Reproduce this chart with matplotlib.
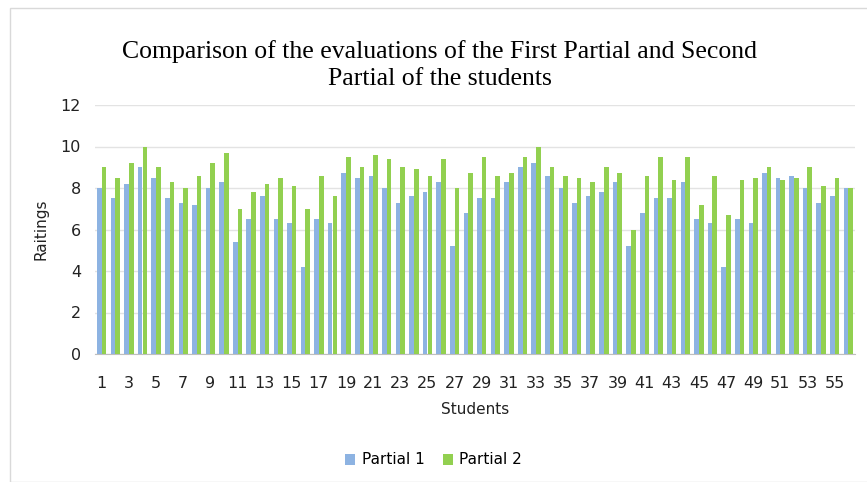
import matplotlib
matplotlib.use("Agg")
import matplotlib.pyplot as plt
import numpy as np
from matplotlib.patches import Rectangle

students = list(range(1, 57))
partial_1 = [8.0, 7.5, 8.2, 9.0, 8.5, 7.5, 7.3, 7.2, 8.0, 8.3,
             5.4, 6.5, 7.6, 6.5, 6.3, 4.2, 6.5, 6.3, 8.7, 8.5,
             8.6, 8.0, 7.3, 7.6, 7.8, 8.3, 5.2, 6.8, 7.5, 7.5,
             8.3, 9.0, 9.2, 8.6, 8.0, 7.3, 7.6, 7.8, 8.3, 5.2,
             6.8, 7.5, 7.5, 8.3, 6.5, 6.3, 4.2, 6.5, 6.3, 8.7,
             8.5, 8.6, 8.0, 7.3, 7.6, 8.0]
partial_2 = [9.0, 8.5, 9.2, 10.0, 9.0, 8.3, 8.0, 8.6, 9.2, 9.7,
             7.0, 7.8, 8.2, 8.5, 8.1, 7.0, 8.6, 7.6, 9.5, 9.0,
             9.6, 9.4, 9.0, 8.9, 8.6, 9.4, 8.0, 8.7, 9.5, 8.6,
             8.7, 9.5, 10.0, 9.0, 8.6, 8.5, 8.3, 9.0, 8.7, 6.0,
             8.6, 9.5, 8.4, 9.5, 7.2, 8.6, 6.7, 8.4, 8.5, 9.0,
             8.4, 8.5, 9.0, 8.1, 8.5, 8.0]
tick_labels = [str(s) for s in students if s % 2 == 1]

blue = '#8db3e2'
green = '#92d050'

fig = plt.figure(figsize=(8.67, 4.82), dpi=100)
fig.patches.append(Rectangle((10/867, 0), 1, 1 - 8/482, transform=fig.transFigure,
                             fill=False, edgecolor='#d9d9d9', linewidth=1))
ax = fig.add_axes([95/867, 1 - 354/482, 760/867, 249/482])

x = np.array(students)
w = 0.34
ax.bar(x - w/2, partial_1, width=w, color=blue, label='Partial 1', zorder=3)
ax.bar(x + w/2, partial_2, width=w, color=green, label='Partial 2', zorder=3)

ax.set_xlim(0.5, 56.5)
ax.set_ylim(0, 12)
ax.set_yticks(range(0, 13, 2))
ax.set_xticks([s for s in students if s % 2 == 1])
ax.set_xticklabels(tick_labels)
ax.tick_params(length=0, labelsize=11.5, colors='#222222')
ax.tick_params(axis='x', pad=16)
ax.tick_params(axis='y', pad=10)
ax.grid(axis='y', color='#e3e3e3', linewidth=1, zorder=0)
for side in ['top', 'right', 'left']:
    ax.spines[side].set_visible(False)
ax.spines['bottom'].set_color('#bfbfbf')

ax.set_xlabel('Students', fontsize=11, color='#222222', labelpad=8)
ax.set_ylabel('Raitings', fontsize=11, color='#222222', labelpad=9)

fig.text(0.507, 1 - 65/482, 'Comparison of the evaluations of the First Partial and Second\nPartial of the students',
         ha='center', va='center', fontsize=18.5, family='Liberation Serif', linespacing=1.3)

fig.legend(loc='center', bbox_to_anchor=(0.5, 1 - 460/482), ncol=2, frameon=False,
           fontsize=11, handlelength=0.7, handleheight=0.7, columnspacing=1.2, handletextpad=0.4)

fig.savefig('out.png', dpi=100)
